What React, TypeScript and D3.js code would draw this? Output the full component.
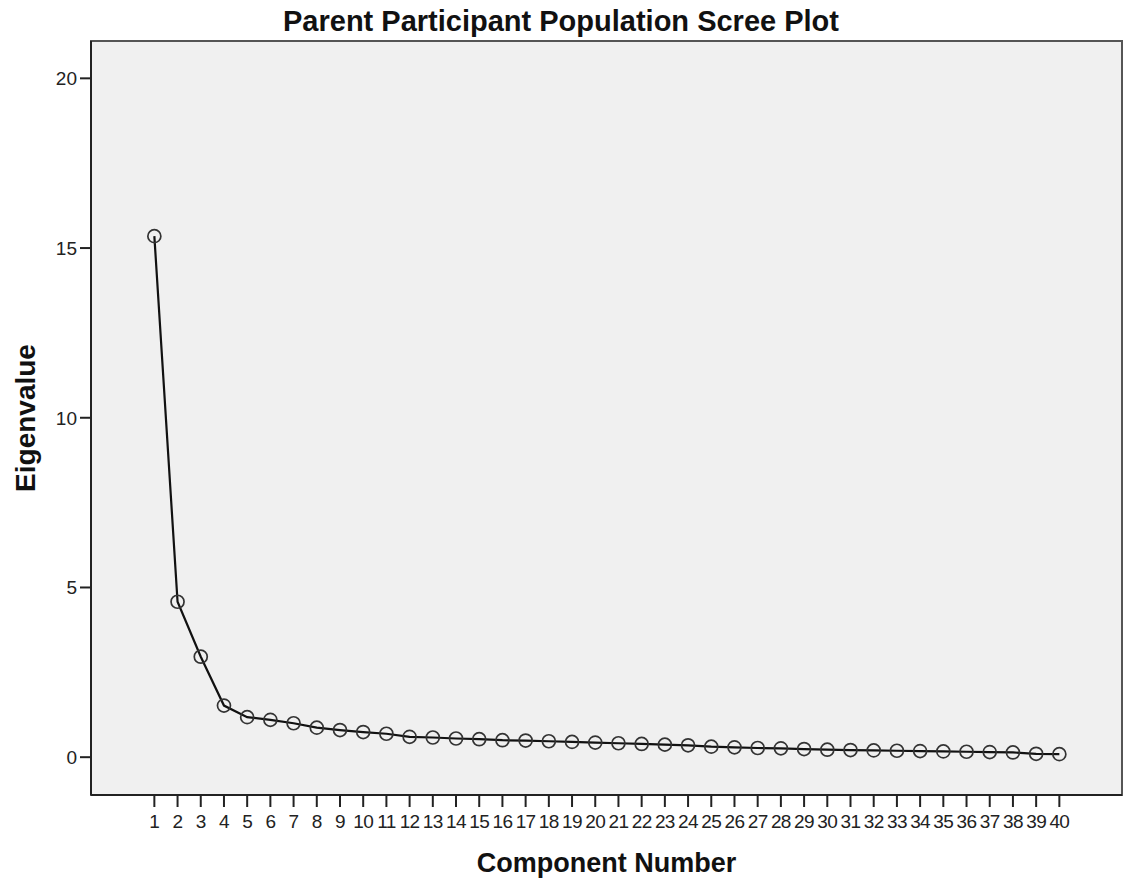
import React from "react";
import * as d3 from "d3";

const components: number[] = d3.range(1, 41);
const eigenvalues: number[] = [
  15.35, 4.58, 2.96, 1.52, 1.18, 1.10, 1.00, 0.87, 0.80, 0.74,
  0.69, 0.60, 0.58, 0.55, 0.53, 0.50, 0.49, 0.47, 0.45, 0.43,
  0.41, 0.39, 0.37, 0.35, 0.31, 0.29, 0.27, 0.26, 0.24, 0.22,
  0.21, 0.20, 0.19, 0.18, 0.17, 0.16, 0.15, 0.14, 0.10, 0.09,
];
const yTicks: number[] = [0, 5, 10, 15, 20];
const title = "Parent Participant Population Scree Plot";
const xTitle = "Component Number";
const yTitle = "Eigenvalue";

const W = 1125;
const H = 884;
const L = 91, R = 1122, T = 41, B = 795;
const FONT = "'Liberation Sans', Arial, sans-serif";

export default function App() {
  const x = d3.scaleLinear().domain([-1.73, 42.7]).range([L, R]);
  const y = d3.scaleLinear().domain([-1.114, 21.1]).range([B, T]);
  const pts = components.map((c, i) => ({ c, v: eigenvalues[i] }));
  const line = d3
    .line<{ c: number; v: number }>()
    .x((d) => x(d.c))
    .y((d) => y(d.v));

  return (
    <div style={{ position: "absolute", left: 0, top: 0 }}>
      <svg width={W} height={H} style={{ display: "block", background: "#fff" }}>
        <rect x={L} y={T} width={R - L} height={B - T} fill="#f0f0f0" stroke="#555" strokeWidth={2} />
        <line x1={L} x2={L} y1={T} y2={B} stroke="#222" strokeWidth={2} />
        <line x1={L} x2={R} y1={B} y2={B} stroke="#222" strokeWidth={2} />
        <text x={561} y={31} textAnchor="middle" fontFamily={FONT} fontWeight="bold" fontSize={29} fill="#111">
          {title}
        </text>
        {yTicks.map((t) => (
          <g key={"y" + t}>
            <line x1={L - 11} x2={L} y1={y(t)} y2={y(t)} stroke="#222" strokeWidth={2} />
            <text x={L - 14} y={y(t)} dy="0.36em" textAnchor="end" fontFamily={FONT} fontSize={19} fill="#222">
              {t}
            </text>
          </g>
        ))}
        {components.map((c) => (
          <g key={"x" + c}>
            <line x1={x(c)} x2={x(c)} y1={B} y2={B + 12} stroke="#222" strokeWidth={2} />
            <text x={x(c)} y={828} textAnchor="middle" fontFamily={FONT} fontSize={19} letterSpacing={-0.6} fill="#222">
              {c}
            </text>
          </g>
        ))}
        <path d={line(pts) || ""} fill="none" stroke="#111" strokeWidth={2.2} />
        {pts.map((d) => (
          <circle key={"p" + d.c} cx={x(d.c)} cy={y(d.v)} r={6.5} fill="none" stroke="#333" strokeWidth={1.7} />
        ))}
        <text x={(L + R) / 2} y={872} textAnchor="middle" fontFamily={FONT} fontWeight="bold" fontSize={27} fill="#111">
          {xTitle}
        </text>
        <text
          transform={`translate(35, ${(T + B) / 2}) rotate(-90)`}
          textAnchor="middle"
          fontFamily={FONT}
          fontWeight="bold"
          fontSize={28}
          fill="#111"
        >
          {yTitle}
        </text>
      </svg>
    </div>
  );
}
